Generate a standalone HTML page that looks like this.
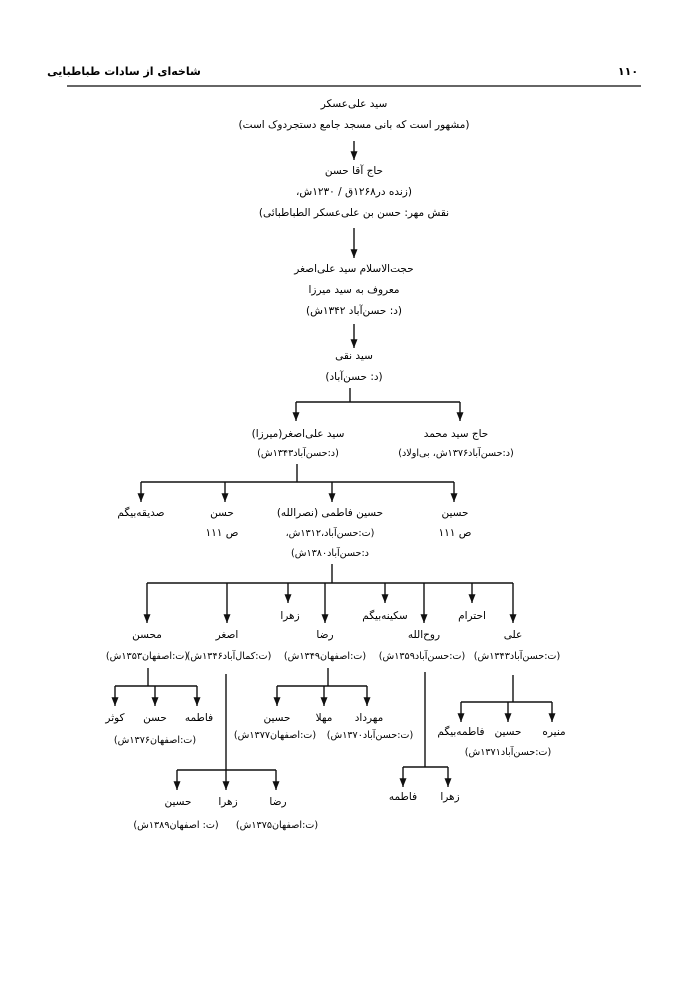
<!DOCTYPE html>
<html><head><meta charset="utf-8"><style>
html,body{margin:0;padding:0;background:#fff;}
svg{display:block}
text{font-family:"DejaVu Sans","Liberation Sans","Noto Sans CJK SC",sans-serif;font-size:10.5px;fill:#000;text-anchor:middle;direction:rtl;unicode-bidi:embed}
.d{font-size:9.6px}
.h{font-weight:bold;font-size:11px}
line{stroke:#111;stroke-width:1.4}
</style></head><body>
<svg width="700" height="989" viewBox="0 0 700 989" xmlns="http://www.w3.org/2000/svg">
<defs>
<marker id="b" viewBox="0 0 8 10" markerWidth="7" markerHeight="9" refX="4" refY="10" orient="0" markerUnits="userSpaceOnUse"><path d="M0,0 L8,0 L4,10 Z" fill="#111"/></marker></defs>
<text class="h" x="124" y="75">شاخه‌ای از سادات طباطبایی</text>
<text class="h" x="628" y="75">۱۱۰</text>
<line x1="67" y1="86" x2="641" y2="86" style="stroke:#666;stroke-width:2"/>

<text x="354" y="107">سید علی‌عسکر</text>
<text x="354" y="128">(مشهور است که بانی مسجد جامع دستجردوک است)</text>
<line x1="354" y1="141" x2="354" y2="160" marker-end="url(#b)"/>
<text x="354" y="174">حاج آقا حسن</text>
<text x="354" y="195">(زنده در۱۲۶۸ق / ۱۲۳۰ش،</text>
<text x="354" y="216">نقش مهر: حسن بن علی‌عسکر الطباطبائی)</text>
<line x1="354" y1="228" x2="354" y2="258" marker-end="url(#b)"/>
<text x="354" y="272">حجت‌الاسلام سید علی‌اصغر</text>
<text x="354" y="293">معروف به سید میرزا</text>
<text x="354" y="314">(د: حسن‌آباد ۱۳۴۲ش)</text>
<line x1="354" y1="324" x2="354" y2="348" marker-end="url(#b)"/>
<text x="354" y="359">سید نقی</text>
<text x="354" y="380">(د: حسن‌آباد)</text>

<line x1="350" y1="388" x2="350" y2="402"/>
<line x1="296" y1="402" x2="460" y2="402"/>
<line x1="296" y1="402" x2="296" y2="421" marker-end="url(#b)"/>
<line x1="460" y1="402" x2="460" y2="421" marker-end="url(#b)"/>
<text x="298" y="437">سید علی‌اصغر(میرزا)</text>
<text x="298" y="456" class="d">(د:حسن‌آباد۱۳۴۳ش)</text>
<text x="456" y="437">حاج سید محمد</text>
<text x="456" y="456" class="d">(د:حسن‌آباد۱۳۷۶ش، بی‌اولاد)</text>

<line x1="297" y1="464" x2="297" y2="482"/>
<line x1="141" y1="482" x2="454" y2="482"/>
<line x1="141" y1="482" x2="141" y2="502" marker-end="url(#b)"/>
<line x1="225" y1="482" x2="225" y2="502" marker-end="url(#b)"/>
<line x1="332" y1="482" x2="332" y2="502" marker-end="url(#b)"/>
<line x1="454" y1="482" x2="454" y2="502" marker-end="url(#b)"/>
<text x="141" y="516">صدیقه‌بیگم</text>
<text x="222" y="516">حسن</text><text x="222" y="536">ص ۱۱۱</text>
<text x="330" y="516">حسین فاطمی (نصرالله)</text>
<text x="330" y="536" class="d">(ت:حسن‌آباد،۱۳۱۲ش،</text>
<text x="330" y="556" class="d">د:حسن‌آباد۱۳۸۰ش)</text>
<text x="455" y="516">حسین</text><text x="455" y="536">ص ۱۱۱</text>

<line x1="332" y1="564" x2="332" y2="583"/>
<line x1="147" y1="583" x2="513" y2="583"/>
<line x1="147" y1="583" x2="147" y2="623" marker-end="url(#b)"/>
<line x1="227" y1="583" x2="227" y2="623" marker-end="url(#b)"/>
<line x1="288" y1="583" x2="288" y2="603" marker-end="url(#b)"/>
<line x1="325" y1="583" x2="325" y2="623" marker-end="url(#b)"/>
<line x1="385" y1="583" x2="385" y2="603" marker-end="url(#b)"/>
<line x1="424" y1="583" x2="424" y2="623" marker-end="url(#b)"/>
<line x1="472" y1="583" x2="472" y2="603" marker-end="url(#b)"/>
<line x1="513" y1="583" x2="513" y2="623" marker-end="url(#b)"/>
<text x="290" y="619">زهرا</text>
<text x="385" y="619">سکینه‌بیگم</text>
<text x="472" y="619">احترام</text>
<text x="147" y="638">محسن</text><text x="147" y="659" class="d">(ت:اصفهان۱۳۵۳ش)</text>
<text x="227" y="638">اصغر</text><text x="229" y="659" class="d">(ت:کمال‌آباد۱۳۴۶ش)</text>
<text x="325" y="638">رضا</text><text x="325" y="659" class="d">(ت:اصفهان۱۳۴۹ش)</text>
<text x="424" y="638">روح‌الله</text><text x="422" y="659" class="d">(ت:حسن‌آباد۱۳۵۹ش)</text>
<text x="513" y="638">علی</text><text x="517" y="659" class="d">(ت:حسن‌آباد۱۳۴۳ش)</text>

<line x1="148" y1="668" x2="148" y2="686"/>
<line x1="115" y1="686" x2="197" y2="686"/>
<line x1="115" y1="686" x2="115" y2="706" marker-end="url(#b)"/>
<line x1="155" y1="686" x2="155" y2="706" marker-end="url(#b)"/>
<line x1="197" y1="686" x2="197" y2="706" marker-end="url(#b)"/>
<text x="115" y="721">کوثر</text><text x="155" y="721">حسن</text><text x="199" y="721">فاطمه</text>
<text x="155" y="743" class="d">(ت:اصفهان۱۳۷۶ش)</text>

<line x1="328" y1="668" x2="328" y2="686"/>
<line x1="277" y1="686" x2="367" y2="686"/>
<line x1="277" y1="686" x2="277" y2="706" marker-end="url(#b)"/>
<line x1="324" y1="686" x2="324" y2="706" marker-end="url(#b)"/>
<line x1="367" y1="686" x2="367" y2="706" marker-end="url(#b)"/>
<text x="277" y="721">حسین</text><text x="324" y="721">مهلا</text><text x="369" y="721">مهرداد</text>
<text x="275" y="738" class="d">(ت:اصفهان۱۳۷۷ش)</text><text x="370" y="738" class="d">(ت:حسن‌آباد۱۳۷۰ش)</text>

<line x1="513" y1="675" x2="513" y2="702"/>
<line x1="461" y1="702" x2="552" y2="702"/>
<line x1="461" y1="702" x2="461" y2="722" marker-end="url(#b)"/>
<line x1="508" y1="702" x2="508" y2="722" marker-end="url(#b)"/>
<line x1="552" y1="702" x2="552" y2="722" marker-end="url(#b)"/>
<text x="461" y="735">فاطمه‌بیگم</text><text x="508" y="735">حسین</text><text x="554" y="735">منیره</text>
<text x="508" y="755" class="d">(ت:حسن‌آباد۱۳۷۱ش)</text>

<line x1="226" y1="674" x2="226" y2="770"/>
<line x1="177" y1="770" x2="276" y2="770"/>
<line x1="177" y1="770" x2="177" y2="790" marker-end="url(#b)"/>
<line x1="226" y1="770" x2="226" y2="790" marker-end="url(#b)"/>
<line x1="276" y1="770" x2="276" y2="790" marker-end="url(#b)"/>
<text x="178" y="805">حسین</text><text x="228" y="805">زهرا</text><text x="278" y="805">رضا</text>
<text x="176" y="828" class="d">(ت: اصفهان۱۳۸۹ش)</text><text x="277" y="828" class="d">(ت:اصفهان۱۳۷۵ش)</text>

<line x1="425" y1="672" x2="425" y2="767"/>
<line x1="403" y1="767" x2="448" y2="767"/>
<line x1="403" y1="767" x2="403" y2="787" marker-end="url(#b)"/>
<line x1="448" y1="767" x2="448" y2="787" marker-end="url(#b)"/>
<text x="403" y="800">فاطمه</text><text x="450" y="800">زهرا</text>
</svg>
</body></html>
